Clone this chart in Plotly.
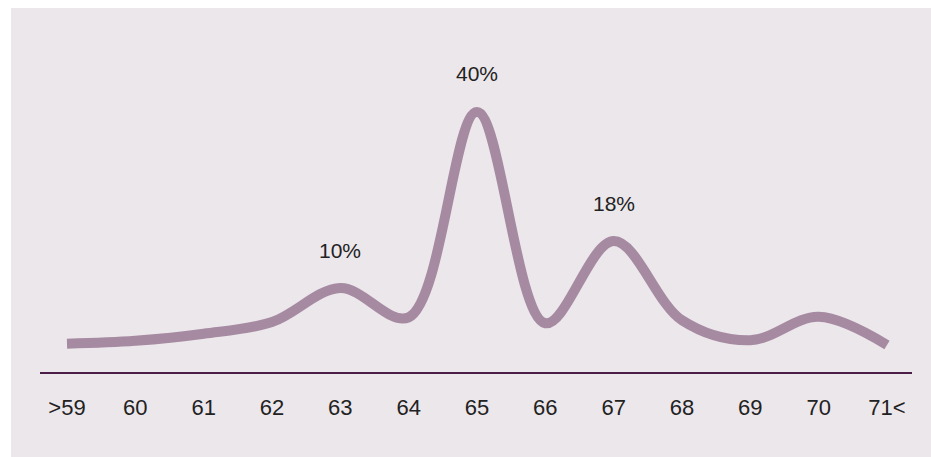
import plotly.graph_objects as go

categories = [">59", "60", "61", "62", "63", "64", "65", "66", "67", "68", "69", "70", "71<"]
values = [0.5, 1.0, 2.2, 4.2, 10, 5.0, 40, 4.0, 18, 4.5, 1.1, 5.1, 0.3]
label_cats = ["63", "65", "67"]
label_texts = ["10%", "40%", "18%"]

xs = list(range(len(categories)))

fig = go.Figure()
fig.add_trace(go.Scatter(
    x=xs, y=values, mode="lines",
    line=dict(color="#A68AA2", width=10, shape="spline", smoothing=1.0),
    hoverinfo="skip", showlegend=False,
))

for c, t in zip(label_cats, label_texts):
    i = categories.index(c)
    fig.add_annotation(x=i, y=values[i], text=t, showarrow=False,
                       yshift=38, font=dict(size=21, color="#222222", family="Liberation Sans"))

# panel background with white strips on left/top
fig.add_shape(type="rect", xref="paper", yref="paper",
              x0=-40/872, x1=-29/872, y0=-85/352, y1=(352+20)/352,
              fillcolor="white", line_width=0, layer="below")
fig.add_shape(type="rect", xref="paper", yref="paper",
              x0=-40/872, x1=(872+19)/872, y0=(352+12)/352, y1=(352+20)/352,
              fillcolor="white", line_width=0, layer="below")

fig.update_layout(
    width=931, height=457,
    margin=dict(l=40, r=19, t=20, b=85),
    paper_bgcolor="#ECE7EB", plot_bgcolor="rgba(0,0,0,0)",
    font=dict(family="Liberation Sans", color="#222222"),
    xaxis=dict(range=[-0.395, 12.366], tickvals=xs, ticktext=categories,
               showgrid=False, zeroline=False, showline=True,
               linecolor="#4B1D47", linewidth=2, ticks="",
               tickfont=dict(size=22, color="#222222"), ticklabelstandoff=15,
               fixedrange=True),
    yaxis=dict(range=[-4.31, 55.66], visible=False, showgrid=False, zeroline=False,
               fixedrange=True),
)

fig.write_html("out.html")
